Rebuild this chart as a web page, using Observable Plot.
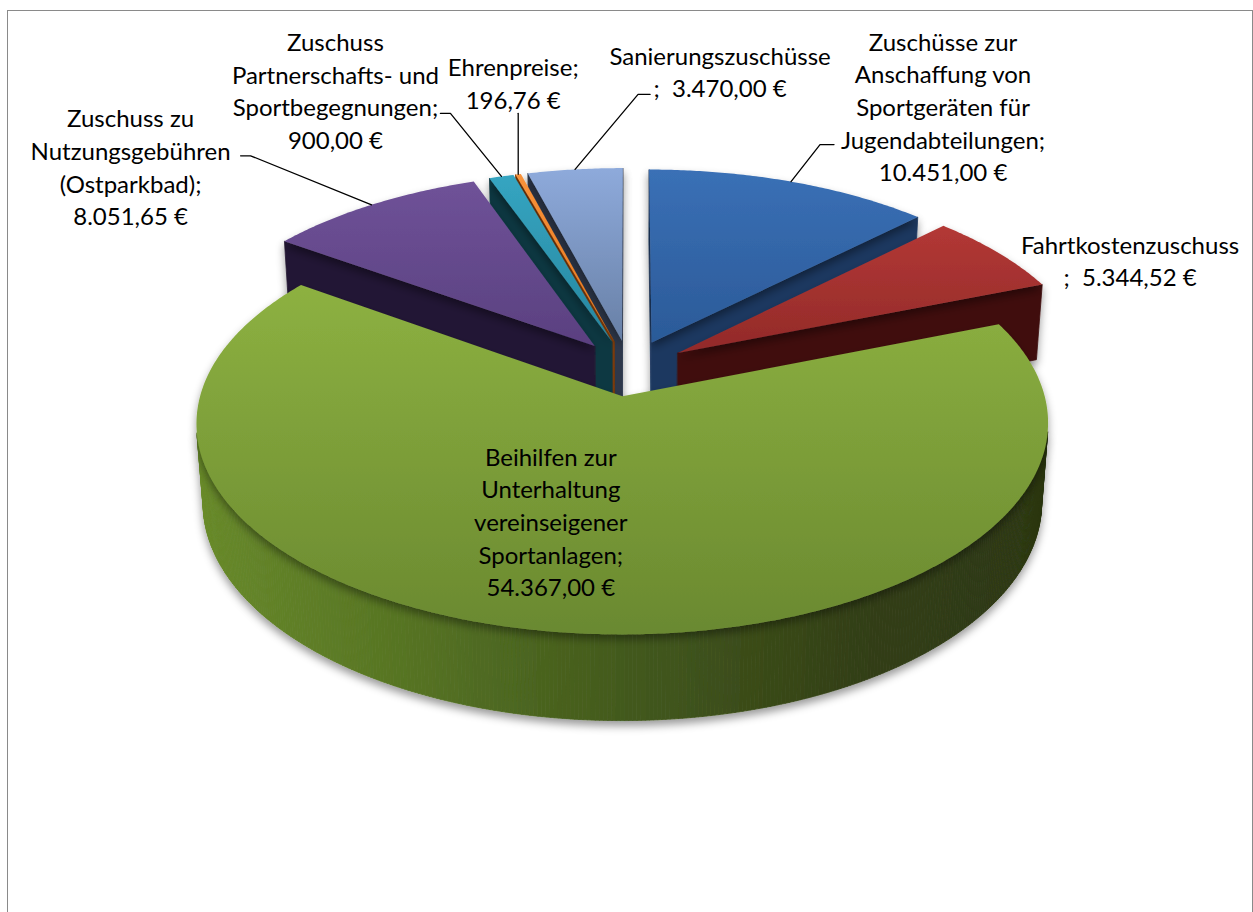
<!DOCTYPE html>
<html><head><meta charset="utf-8">
<script src="https://cdn.jsdelivr.net/npm/d3@7"></script>
<script src="https://cdn.jsdelivr.net/npm/@observablehq/plot@0.6"></script>
<style>
html,body{margin:0;padding:0;background:#fff;overflow:hidden;}
#chart{position:absolute;left:0;top:0;}
#frame{position:absolute;left:7px;top:10px;width:1246px;height:960px;border:1px solid #8a8a8a;box-sizing:border-box;pointer-events:none;}
</style></head><body>
<div id="chart"></div><div id="frame"></div>
<script>
// ---- data ----
const categories = [
  "Zuschüsse zur\nAnschaffung von\nSportgeräten für\nJugendabteilungen",
  "Fahrtkostenzuschuss",
  "Beihilfen zur\nUnterhaltung\nvereinseigener\nSportanlagen",
  "Zuschuss zu\nNutzungsgebühren\n(Ostparkbad)",
  "Zuschuss\nPartnerschafts- und\nSportbegegnungen",
  "Ehrenpreise",
  "Sanierungszuschüsse"
];
const values = [10451.00, 5344.52, 54367.00, 8051.65, 900.00, 196.76, 3470.00];
// whether the ";" follows the name on the same line (Excel wrapping)
const semicolonInline = [true, false, true, true, true, true, false];

// ---- styles / layout ----
const topColors = [
  ["#3a70b6", "#2b5a98"],
  ["#b33835", "#922a29"],
  ["#8db141", "#6a8930"],
  ["#6f5298", "#5a4080"],
  ["#35a5c1", "#27869f"],
  ["#f7923a", "#e8761a"],
  ["#8eaadb", "#6880a6"]
];
const cutColors = ["#1d3961", "#3f1111", "#3e521b", "#241934", "#0f3843", "#7a3a08", "#2d384c"];
const wallColors = [
  ["#264a78", "#1a3358"],
  ["#5a1a19", "#3a0f0f"],
  ["#6a8c2c", "#587624", "#435a1d", "#333f16", "#2b3612"],
  ["#3a2a52", "#241934"],
  ["#15495a", "#0f3843"],
  ["#9a4c0c", "#7a3a08"],
  ["#3a465c", "#2d384c"]
];
// label offsets relative to slice anchor point (px)
const labelLayout = [
  {r: 1,   dx: 152, dy: -76, leader: [[29, -37], [43, -37]]},
  {r: 1,   dx: 132, dy: 7,   leader: null},
  {r: 0.5, dx: -44, dy: 14,  leader: null},
  {r: 1,   dx: -241, dy: -39, leader: [[-121, -49], [-131, -49]]},
  {r: 1,   dx: -166, dy: -87, leader: [[-51, -63], [-61, -63]]},
  {r: 1,   dx: -5,  dy: -92, leader: [[0, -61]]},
  {r: 1,   dx: 145, dy: -99, leader: [[63, -75], [75, -75]]}
];

// ---- 3D projection ----
const deg = Math.PI / 180;
const cam = {F: 2905, D: 7, phi: 28.9 * deg, cx: 629, cy: 367.5, H: 0.218, explode: 0.14};
const cs = Math.cos(cam.phi), sn = Math.sin(cam.phi);
function proj(p) {
  const d = cam.D + p[1] * cs - p[2] * sn;
  return [cam.cx + cam.F * p[0] / d, cam.cy - cam.F * (p[1] * sn + p[2] * cs) / d];
}
const camPos = [0, -cam.D * cs, cam.D * sn];
const dist = p => Math.hypot(p[0] - camPos[0], p[1] - camPos[1], p[2] - camPos[2]);
const facing = (n, p) => n[0] * (camPos[0] - p[0]) + n[1] * (camPos[1] - p[1]) + n[2] * (camPos[2] - p[2]) > 0;

const arcs = d3.pie().sort(null).value(d => d)(values);
const slices = arcs.map((a, i) => {
  const mid = (a.startAngle + a.endAngle) / 2;
  return {i, a0: a.startAngle, a1: a.endAngle, mid,
    ox: cam.explode * Math.sin(mid), oy: cam.explode * Math.cos(mid)};
});
const W = (s, t, r, z) => [s.ox + r * Math.sin(t), s.oy + r * Math.cos(t), z];

// ---- faces ----
const sideFaces = [];
const step = 0.5 * deg;
slices.forEach(s => {
  const n = Math.max(1, Math.ceil((s.a1 - s.a0) / step));
  const wallInterp = d3.piecewise(d3.interpolateRgb, wallColors[s.i]);
  for (let k = 0; k < n; k++) {
    const t0 = s.a0 + (s.a1 - s.a0) * k / n, t1 = s.a0 + (s.a1 - s.a0) * (k + 1) / n, tm = (t0 + t1) / 2;
    const c = W(s, tm, 1, -cam.H / 2);
    if (!facing([Math.sin(tm), Math.cos(tm), 0], c)) continue;
    const u = (Math.sin(tm) + 1) / 2;
    sideFaces.push({pts: [W(s, t0, 1, 0), W(s, t1, 1, 0), W(s, t1, 1, -cam.H), W(s, t0, 1, -cam.H)],
      depth: dist(c), col: wallInterp(u)});
  }
  [[s.a0, [-Math.cos(s.a0), Math.sin(s.a0), 0]], [s.a1, [Math.cos(s.a1), -Math.sin(s.a1), 0]]].forEach(([t, nrm]) => {
    const c = W(s, t, 0.5, -cam.H / 2);
    if (!facing(nrm, c)) return;
    sideFaces.push({pts: [W(s, t, 0, 0), W(s, t, 1, 0), W(s, t, 1, -cam.H), W(s, t, 0, -cam.H)],
      depth: dist(c), col: cutColors[s.i]});
  });
});
sideFaces.sort((a, b) => b.depth - a.depth);
const sideData = sideFaces.flatMap((f, fi) => f.pts.map(p => { const q = proj(p); return {x: q[0], y: q[1], f: fi, col: f.col}; }));

const topData = slices.flatMap(s => {
  const n = Math.max(2, Math.ceil((s.a1 - s.a0) / step));
  const pts = [W(s, 0, 0, 0)];
  for (let k = 0; k <= n; k++) pts.push(W(s, s.a0 + (s.a1 - s.a0) * k / n, 1, 0));
  return pts.map(p => { const q = proj(p); return {x: q[0], y: q[1], f: s.i, col: `url(#top${s.i})`}; });
});

// ---- labels ----
const fmt = d3.formatLocale({decimal: ",", thousands: ".", grouping: [3], currency: ["", " €"]}).format("$,.2f");
const labelData = [], leaderData = [];
slices.forEach(s => {
  const L = labelLayout[s.i];
  const a = proj(W(s, s.mid, L.r, 0));
  const text = semicolonInline[s.i]
    ? categories[s.i] + ";\n" + fmt(values[s.i])
    : categories[s.i] + "\n;\u00a0 " + fmt(values[s.i]);
  labelData.push({x: a[0] + L.dx, y: a[1] + L.dy, text});
  if (L.leader) {
    leaderData.push({x: a[0], y: a[1], id: s.i});
    L.leader.forEach(([dx, dy]) => leaderData.push({x: a[0] + dx, y: a[1] + dy, id: s.i}));
  }
});

const plot = Plot.plot({
  width: 1253, height: 912, margin: 0,
  x: {domain: [0, 1253], range: [0, 1253], axis: null},
  y: {domain: [0, 912], range: [0, 912], axis: null},
  color: {type: "identity"},
  style: {fontFamily: "Lato, sans-serif", background: "transparent", overflow: "visible"},
  marks: [
    Plot.line(sideData, {x: "x", y: "y", z: "f", fill: "col", stroke: "col", strokeWidth: 0.8, curve: "linear-closed"}),
    Plot.line(topData, {x: "x", y: "y", z: "f", fill: "col", stroke: "none", curve: "linear-closed"}),
    Plot.line(leaderData, {x: "x", y: "y", z: "id", stroke: "#000", strokeWidth: 1.3, fill: "none"}),
    Plot.text(labelData, {x: "x", y: "y", text: "text", fontSize: 24, lineHeight: 1.36, fill: "#000",
      textAnchor: "middle", lineAnchor: "middle"})
  ]
});

// gradients and shadow
const svg = d3.select(plot);
const defs = svg.insert("defs", ":first-child");
topColors.forEach((c, i) => {
  const g = defs.append("linearGradient").attr("id", `top${i}`).attr("x1", 0).attr("y1", 0).attr("x2", 0).attr("y2", 1);
  g.append("stop").attr("offset", "0%").attr("stop-color", c[0]);
  g.append("stop").attr("offset", "100%").attr("stop-color", c[1]);
});
const filt = defs.append("filter").attr("id", "sh").attr("x", "-10%").attr("y", "-10%").attr("width", "120%").attr("height", "130%");
filt.append("feDropShadow").attr("dx", 0).attr("dy", 5).attr("stdDeviation", 4)
  .attr("flood-color", "#000").attr("flood-opacity", 0.4);
svg.selectAll('g[aria-label="line"]').filter((d, i) => i < 2).attr("filter", "url(#sh)");

document.getElementById("chart").appendChild(plot);
</script>
</body></html>
